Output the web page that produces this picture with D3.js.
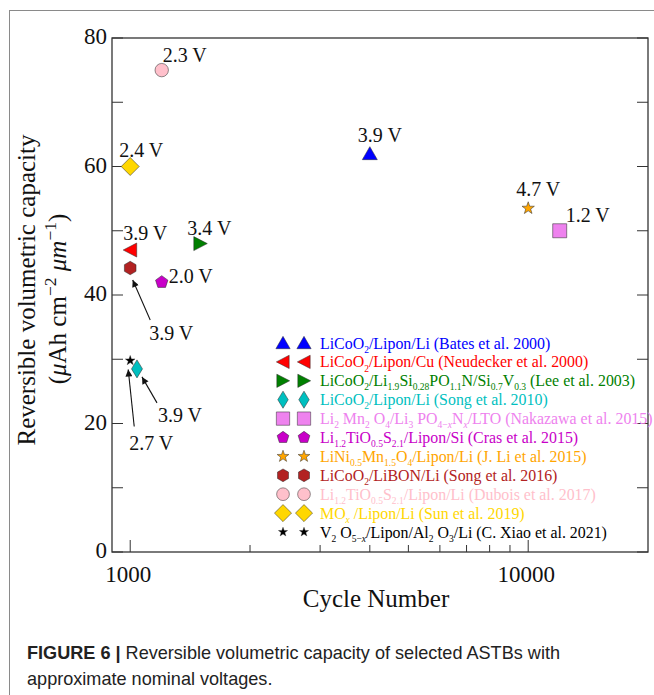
<!DOCTYPE html>
<html>
<head>
<meta charset="utf-8">
<script src="https://cdn.jsdelivr.net/npm/d3@7"></script>
<style>
  body { margin: 0; background: #fff; }
  svg { display: block; }
  text { white-space: pre; }
</style>
</head>
<body>
<svg id="chart" width="654" height="695"></svg>
<script>
// ---- data ----
const studies = [
    "LiCoO_{2}/Lipon/Li (Bates et al. 2000)",
    "LiCoO_{2}/Lipon/Cu (Neudecker et al. 2000)",
    "LiCoO_{2}/Li_{1.9}Si_{0.28}PO_{1.1}N/Si_{0.7}V_{0.3} (Lee et al. 2003)",
    "LiCoO_{2}/Lipon/Li (Song et al. 2010)",
    "Li_{2} Mn_{2} O_{4}/Li_{3} PO_{4−*x*}N_{*x*}/LTO (Nakazawa et al. 2015)",
    "Li_{1.2}TiO_{0.5}S_{2.1}/Lipon/Si (Cras et al. 2015)",
    "LiNi_{0.5}Mn_{1.5}O_{4}/Lipon/Li (J. Li et al. 2015)",
    "LiCoO_{2}/LiBON/Li (Song et al. 2016)",
    "Li_{1.2}TiO_{0.5}S_{2.1}/Lipon/Li (Dubois et al. 2017)",
    "MO_{*x*} /Lipon/Li (Sun et al. 2019)",
    "V_{2} O_{5−*x*}/Lipon/Al_{2} O_{3}/Li (C. Xiao et al. 2021)"
]
const cycles   = [4000, 1000, 1500, 1040, 12000, 1200, 10000, 1000, 1200, 1000, 1000]
const capacity = [62, 47, 48, 28.5, 50, 42, 53.5, 44.2, 75, 60, 29.8]
const voltages = ["3.9 V", "3.9 V", "3.4 V", "3.9 V", "1.2 V", "2.0 V", "4.7 V", "3.9 V", "2.3 V", "2.4 V", "2.7 V"]
const yTicks = [0, 20, 40, 60, 80]
const yMinorTicks = [10, 30, 50, 70]
const xTickLabels = [1000, 10000]

// ---- styles ----
const markers = ['^', '<', '>', 'd', 's', 'p', '*', 'h', 'o', 'D', '*']
const colors = ['#0000ff', '#ff0000', '#008000', '#00bfbf', '#ee82ee', '#c800c8',
                '#ffa500', '#b22222', '#ffc0cb', '#ffd700', '#000000']
// label offsets in px from the point: [dx, dy] text start / baseline, arrow = [hx, hy, tx, ty]
const labelPos = [
    {dx: -12, dy: -12}, {dx: -7, dy: -10}, {dx: -13, dy: -9},
    {dx: 21, dy: 53, arrow: [5, 8, 20, 34]},
    {dx: 6, dy: -9}, {dx: 7, dy: 1}, {dx: -12, dy: -12},
    {dx: 19, dy: 72, arrow: [2.5, 12, 20, 52]},
    {dx: 1, dy: -8}, {dx: -11, dy: -10},
    {dx: -1, dy: 89, arrow: [-2, 9, 4, 66]}
]

const serif = "'Liberation Serif', 'Times New Roman', serif"
const sans = "'Liberation Sans', Arial, sans-serif"

const svg = d3.select('#chart')

// outer frame
svg.append('rect')
    .attr('x', 9.5).attr('y', 10.5)
    .attr('width', 700).attr('height', 700)
    .attr('fill', 'none').attr('stroke', '#8a8a8a').attr('stroke-width', 1)

const pLeft = 112, pRight = 648, pTop = 38, pBottom = 552
const x = d3.scaleLog().domain([900, 20000]).range([pLeft, pRight])
const y = d3.scaleLinear().domain([0, 80]).range([pBottom, pTop])

// marker paths
function markerPath(shape) {
    const p = d3.path()
    const poly = (pts) => {
        pts.forEach((q, i) => i ? p.lineTo(q[0], q[1]) : p.moveTo(q[0], q[1]))
        p.closePath()
    }
    const regular = (n, r, rot) => {
        let pts = []
        for (let i = 0; i < n; i++) {
            let a = rot + i * 2 * Math.PI / n
            pts.push([r * Math.sin(a), -r * Math.cos(a)])
        }
        poly(pts)
    }
    switch (shape) {
        case '^': poly([[0, -7], [7.5, 6], [-7.5, 6]]); break
        case '<': poly([[-7, 0], [6.5, -7], [6.5, 7]]); break
        case '>': poly([[7, 0], [-6.5, -7], [-6.5, 7]]); break
        case 'd': poly([[0, -9], [5.5, 0], [0, 9], [-5.5, 0]]); break
        case 'D': poly([[0, -9], [9, 0], [0, 9], [-9, 0]]); break
        case 's': poly([[-7, -7], [7, -7], [7, 7], [-7, 7]]); break
        case 'p': regular(5, 6.5, 0); break
        case 'h': regular(6, 6.7, 0); break
        case 'o': p.arc(0, 0, 6.7, 0, 2 * Math.PI); break
        case '*': {
            let pts = []
            for (let i = 0; i < 10; i++) {
                let r = i % 2 ? 2.6 : 6.5
                let a = i * Math.PI / 5
                pts.push([r * Math.sin(a), -r * Math.cos(a)])
            }
            poly(pts)
            break
        }
    }
    return p.toString()
}

function starScale(i) {
    // the black star is drawn a little smaller
    return i === 10 ? 0.78 : 1
}

// rich text: _{sub}, ^{sup}, *italic*
function addRich(textSel, str, fs, ratio = 0.6) {
    let shift = 0
    str.split(/(_\{[^}]*\}|\^\{[^}]*\})/).filter(s => s).forEach(part => {
        let level = 0, body = part
        if (part.startsWith('_{')) { level = 1; body = part.slice(2, -1) }
        else if (part.startsWith('^{')) { level = -1; body = part.slice(2, -1) }
        const target = level === 1 ? fs * 0.26 : level === -1 ? -fs * 0.42 : 0
        const size = level ? fs * ratio : fs
        body.split(/(\*[^*]*\*)/).filter(s => s).forEach(q => {
            const it = q.startsWith('*')
            const t = textSel.append('tspan').attr('font-size', size).text(it ? q.slice(1, -1) : q)
            if (it) t.attr('font-style', 'italic')
            if (target !== shift) { t.attr('dy', target - shift); shift = target }
        })
    })
}

// ---- axes ----
const axisColor = '#333'
const g = svg.append('g')

g.append('rect')
    .attr('x', pLeft).attr('y', pTop)
    .attr('width', pRight - pLeft).attr('height', pBottom - pTop)
    .attr('fill', 'none').attr('stroke', axisColor).attr('stroke-width', 1.3)

// y ticks (left and right, pointing inward)
yTicks.concat(yMinorTicks).forEach(v => {
    g.append('line').attr('x1', pLeft).attr('x2', pLeft + 11)
        .attr('y1', y(v)).attr('y2', y(v)).attr('stroke', axisColor).attr('stroke-width', 1)
    g.append('line').attr('x1', pRight).attr('x2', pRight - 11)
        .attr('y1', y(v)).attr('y2', y(v)).attr('stroke', axisColor).attr('stroke-width', 1)
})
g.selectAll('.ytl').data(yTicks).enter().append('text')
    .attr('x', pLeft - 5).attr('y', d => y(d) + 6)
    .attr('text-anchor', 'end')
    .style('font-family', serif).style('font-size', '23px').attr('fill', '#111')
    .text(d => d)

// x ticks, log scale, pointing up
const xMinor = d3.range(2, 10).map(d => d * 1000)
xTickLabels.concat(xMinor).forEach(v => {
    const major = xTickLabels.includes(v)
    g.append('line').attr('x1', x(v)).attr('x2', x(v))
        .attr('y1', pBottom).attr('y2', pBottom - (major ? 12 : 7))
        .attr('stroke', axisColor).attr('stroke-width', 1)
})
g.selectAll('.xtl').data(xTickLabels).enter().append('text')
    .attr('x', d => x(d) - 2).attr('y', pBottom + 30)
    .attr('text-anchor', 'middle')
    .style('font-family', serif).style('font-size', '23px').attr('fill', '#111')
    .text(d => d)

// axis titles
svg.append('text')
    .attr('x', (pLeft + pRight) / 2 - 4).attr('y', 607)
    .attr('text-anchor', 'middle')
    .style('font-family', serif).style('font-size', '25px').attr('fill', '#111')
    .text('Cycle Number')

svg.append('text')
    .attr('transform', 'translate(35,290) rotate(-90)')
    .attr('text-anchor', 'middle')
    .style('font-family', serif).style('font-size', '25px').attr('fill', '#111')
    .text('Reversible volumetric capacity')
const yt2 = svg.append('text')
    .attr('transform', 'translate(66,299) rotate(-90)')
    .attr('text-anchor', 'middle')
    .style('font-family', serif).attr('fill', '#111')
addRich(yt2, '(*μ*Ah cm^{−2} *μm*^{−1})', 25, 0.7)

// ---- arrows + labels ----
svg.append('defs').append('marker')
    .attr('id', 'ah').attr('viewBox', '0 0 10 10')
    .attr('refX', 10).attr('refY', 5)
    .attr('markerWidth', 9).attr('markerHeight', 7)
    .attr('markerUnits', 'userSpaceOnUse')
    .attr('orient', 'auto')
    .append('path').attr('d', 'M0,0 L10,5 L0,10 z').attr('fill', '#111')

const pts = cycles.map((c, i) => ({
    i, px: x(c), py: y(capacity[i]), shape: markers[i], color: colors[i], lab: voltages[i], pos: labelPos[i]
}))

pts.filter(d => d.pos.arrow).forEach(d => {
    const a = d.pos.arrow
    svg.append('line')
        .attr('x1', d.px + a[2]).attr('y1', d.py + a[3])
        .attr('x2', d.px + a[0]).attr('y2', d.py + a[1])
        .attr('stroke', '#111').attr('stroke-width', 1.1)
        .attr('marker-end', 'url(#ah)')
})

// data points
svg.append('g').selectAll('path').data(pts).enter().append('path')
    .attr('d', d => markerPath(d.shape))
    .attr('transform', d => `translate(${d.px},${d.py}) scale(${starScale(d.i)})`)
    .attr('fill', d => d.color)
    .attr('stroke', 'rgba(40,40,40,0.65)').attr('stroke-width', 0.8)

svg.append('g').selectAll('text').data(pts).enter().append('text')
    .attr('x', d => d.px + d.pos.dx).attr('y', d => d.py + d.pos.dy)
    .style('font-family', serif).style('font-size', '20px').attr('fill', '#111')
    .text(d => d.lab)

// ---- legend ----
const legend = svg.append('g')
const rowY = i => 343 + i * 18.9
studies.forEach((s, i) => {
    [283, 304].forEach(mx => {
        legend.append('path')
            .attr('d', markerPath(markers[i]))
            .attr('transform', `translate(${mx},${rowY(i)}) scale(${starScale(i) * 0.95})`)
            .attr('fill', colors[i])
            .attr('stroke', 'rgba(40,40,40,0.65)').attr('stroke-width', 0.8)
    })
    const t = legend.append('text')
        .attr('x', 320).attr('y', rowY(i) + 5.5)
        .style('font-family', serif).attr('fill', colors[i])
    addRich(t, s, 15.9)
})

// ---- caption ----
const cap = svg.append('text')
    .attr('x', 27).attr('y', 659)
    .style('font-family', sans).style('font-size', '18.1px').attr('fill', '#222')
cap.append('tspan').attr('font-weight', 'bold').text('FIGURE 6 | ')
cap.append('tspan').text('Reversible volumetric capacity of selected ASTBs with')
svg.append('text')
    .attr('x', 27).attr('y', 685)
    .style('font-family', sans).style('font-size', '18.1px').attr('fill', '#222')
    .text('approximate nominal voltages.')
</script>
</body>
</html>
